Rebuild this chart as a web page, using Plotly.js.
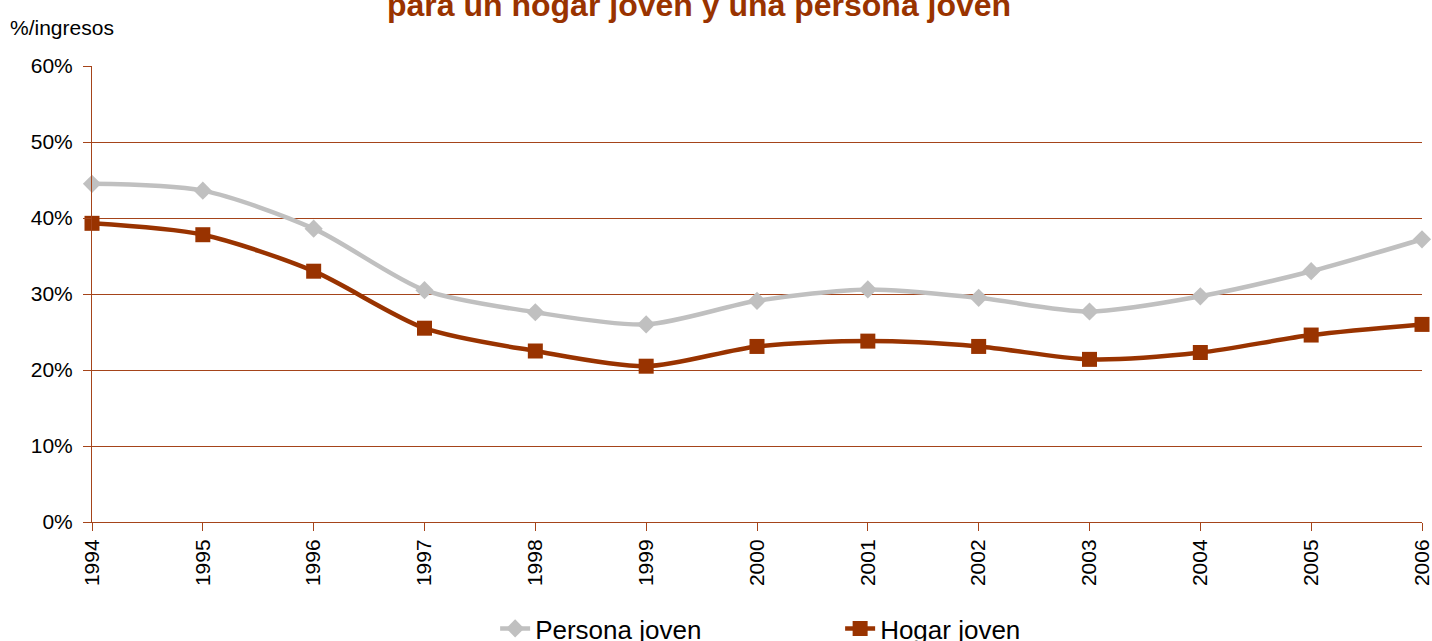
<!DOCTYPE html>
<html>
<head>
<meta charset="utf-8">
<script src="https://cdn.plot.ly/plotly-3.0.1.min.js"></script>
<style>html,body{margin:0;padding:0;background:#fff;}#chart{width:1432px;height:641px;}</style>
</head>
<body>
<div id="chart"></div>
<script>
const years = [1994,1995,1996,1997,1998,1999,2000,2001,2002,2003,2004,2005,2006];
const personaJoven = [44.5,43.6,38.6,30.5,27.6,26.0,29.1,30.6,29.5,27.7,29.7,33.0,37.2];
const hogarJoven = [39.3,37.8,33.0,25.5,22.5,20.5,23.1,23.8,23.1,21.4,22.3,24.6,26.0];
const seriesNames = ["Persona joven","Hogar joven"];
const titleText = "para un hogar joven y una persona joven";
const yAxisLabel = "%/ingresos";

const font = "Liberation Sans Narrow, Arial Narrow, Liberation Sans, Arial, sans-serif";
const axisColor = "#a5441a";

const traces = [
  {x: years, y: personaJoven, name: seriesNames[0], type: "scatter", mode: "lines+markers",
   line: {color: "#c0c0c0", width: 4.5, shape: "spline", smoothing: 0.8},
   marker: {symbol: "diamond", size: 14, color: "#c0c0c0"}, cliponaxis: false},
  {x: years, y: hogarJoven, name: seriesNames[1], type: "scatter", mode: "lines+markers",
   line: {color: "#993300", width: 4.5, shape: "spline", smoothing: 0.8},
   marker: {symbol: "square", size: 15, color: "#993300"}, cliponaxis: false}
];

const layout = {
  width: 1432, height: 641,
  margin: {l: 92, r: 10, t: 66, b: 119, autoexpand: false},
  paper_bgcolor: "#fff", plot_bgcolor: "#fff",
  font: {family: font, size: 21, color: "#000"},
  showlegend: true,
  legend: {orientation: "h", x: 0.5625, xanchor: "center", y: -0.182, yanchor: "top",
           font: {size: 26, family: font}, entrywidth: 300, entrywidthmode: "pixels"},
  xaxis: {range: [1994, 2006], tickmode: "array", tickvals: years, ticktext: years.map(String),
          tickangle: -90, showgrid: false, showline: true, linecolor: axisColor, linewidth: 1,
          ticks: "outside", ticklen: 8, tickcolor: axisColor, tickfont: {size: 21}, zeroline: false,
          ticklabeloverflow: "allow", automargin: false},
  yaxis: {range: [0, 60], dtick: 10, ticksuffix: "%", showgrid: true, gridcolor: axisColor, gridwidth: 1,
          showline: true, linecolor: axisColor, linewidth: 1, ticks: "outside", ticklen: 8,
          tickcolor: axisColor, tickfont: {size: 21}, zeroline: false, ticklabelstandoff: 6, automargin: false},
  annotations: [
    {text: "<b>" + titleText + "</b>", xref: "paper", yref: "paper", x: 0.4564, y: 1.0899,
     xanchor: "center", yanchor: "bottom", showarrow: false, font: {size: 32, color: "#993300", family: "Liberation Sans, Arial, sans-serif"}},
    {text: yAxisLabel, xref: "paper", yref: "paper", x: -0.063, y: 1.085, xanchor: "left", yanchor: "middle",
     showarrow: false, font: {size: 21}}
  ]
};

Plotly.newPlot("chart", traces, layout, {displayModeBar: false});
</script>
</body>
</html>
